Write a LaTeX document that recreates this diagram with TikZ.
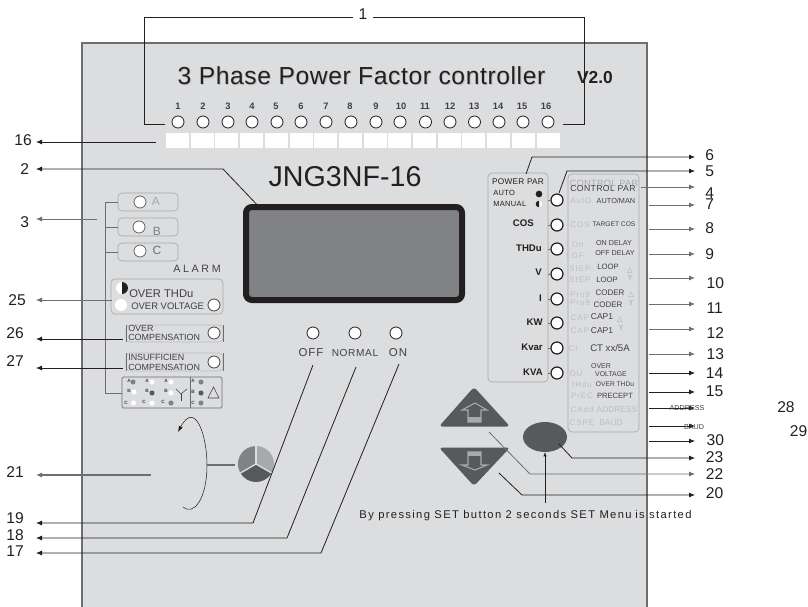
\documentclass[tikz,border=0pt]{standalone}
\usepackage{fontspec}
\setmainfont{Liberation Sans}
\newfontfamily\symfont{DejaVu Sans}
\usepackage{tikz}
\usetikzlibrary{shapes.geometric,arrows.meta}

\definecolor{panelgray}{HTML}{DCDDDE}
\definecolor{edgegray}{HTML}{6D6E71}
\definecolor{inkdark}{HTML}{231F20}
\definecolor{txtgray}{HTML}{414042}
\definecolor{lcdgray}{HTML}{808285}
\definecolor{keygray}{HTML}{58595B}
\definecolor{softgray}{HTML}{A7A9AC}
\definecolor{ghostgray}{HTML}{BCBEC0}

\tikzset{
  fs/.style={font=\fontsize{#1}{#1}\selectfont},
  led/.style={circle,draw=inkdark,fill=white,line width=0.6pt,minimum size=9pt,inner sep=0pt,outer sep=0pt},
  bigled/.style={led,line width=0.9pt},
  slot/.style={rectangle,fill=white,minimum width=17.25pt,minimum height=11.25pt,inner sep=0pt},
  ledno/.style={font=\fontsize{7}{7}\selectfont\bfseries,text=txtgray,inner sep=0pt},
  lblleft/.style={anchor=east,font=\fontsize{11.7}{14}\selectfont,text=inkdark,inner ysep=0pt,inner xsep=#1},
  lblleft/.default=3pt,
  lblright/.style={anchor=west,font=\fontsize{11.7}{14}\selectfont,text=inkdark,inner ysep=0pt,inner xsep=#1},
  lblright/.default=7.5pt,
  leader/.style={draw=inkdark,line width=0.6pt,-{Latex[length=4.5pt,width=3.8pt]}},
  trunk/.style={draw=edgegray,line width=0.6pt},
  frame/.style={rectangle,draw=softgray,rounded corners=3pt,line width=0.5pt,outer sep=0pt},
  ghost/.style={text=ghostgray,inner sep=0pt,font=\fontsize{6}{6}\selectfont\addfontfeature{LetterSpace=12}},
  keytxt/.style={text=txtgray,inner sep=0pt,font=\fontsize{#1}{#1}\selectfont},
  keytxt/.default=5,
  powtxt/.style={text=inkdark,inner sep=0pt,anchor=east,font=\fontsize{7.2}{8}\selectfont\bfseries},
  mini/.style={text=txtgray,inner sep=0pt,font=\fontsize{3.5}{4}\selectfont\bfseries},
  dotw/.style={circle,fill=white,minimum size=3.8pt,inner sep=0pt},
  dotg/.style={circle,fill=lcdgray,minimum size=3.8pt,inner sep=0pt},
  dotd/.style={circle,fill=keygray,minimum size=3.8pt,inner sep=0pt},
  sym/.style={text=softgray,inner sep=0pt,font=\symfont\fontsize{5.5}{6}\selectfont},
}

\begin{document}
\begin{tikzpicture}[x=0.75pt,y=0.75pt,yscale=-1,xscale=1]

            \useasboundingbox (0,0) rectangle (808,607);

            % Panel
            \fill[panelgray] (82,43) rectangle (647,607);
            \draw[edgegray,line width=1.1pt] (82,607) -- (82,43) -- (647,43) -- (647,607);

            % Title
            \node (titleb) [text=ghostgray,font=\fontsize{18.5}{20}\selectfont\addfontfeature{LetterSpace=2.4}] at (362.5,77) {3 Phase Power Factor controller};
            \node (title) [text=inkdark,font=\fontsize{18.5}{20}\selectfont\addfontfeature{LetterSpace=2.4}] at (361.5,76) {3 Phase Power Factor controller};
            \node (ver) [text=inkdark,font=\fontsize{13}{14}\selectfont\bfseries] at (595,78) {V2.0};
            \node (model) [text=inkdark,font=\fontsize{21.5}{24}\selectfont] at (345,177) {JNG3NF-16};

            % Step numbers
            \node (no1) [ledno] at (178,106) {1};
            \node (no2) [ledno] at (203,106) {2};
            \node (no3) [ledno] at (228,106) {3};
            \node (no4) [ledno] at (252,106) {4};
            \node (no5) [ledno] at (276,106) {5};
            \node (no6) [ledno] at (301,106) {6};
            \node (no7) [ledno] at (326,106) {7};
            \node (no8) [ledno] at (350,106) {8};
            \node (no9) [ledno] at (376,106) {9};
            \node (no10) [ledno] at (401,106) {10};
            \node (no11) [ledno] at (425,106) {11};
            \node (no12) [ledno] at (450,106) {12};
            \node (no13) [ledno] at (474,106) {13};
            \node (no14) [ledno] at (498,106) {14};
            \node (no15) [ledno] at (522,106) {15};
            \node (no16) [ledno] at (546,106) {16};

            % Step LEDs
            \node (led1) [led] at (178,122) {};
            \node (led2) [led] at (203,122) {};
            \node (led3) [led] at (228,122) {};
            \node (led4) [led] at (252,122) {};
            \node (led5) [led] at (277,122) {};
            \node (led6) [led] at (301,122) {};
            \node (led7) [led] at (326,122) {};
            \node (led8) [led] at (351,122) {};
            \node (led9) [led] at (376,122) {};
            \node (led10) [led] at (400,122) {};
            \node (led11) [led] at (425.5,122) {};
            \node (led12) [led] at (450,122) {};
            \node (led13) [led] at (474.5,122) {};
            \node (led14) [led] at (499,122) {};
            \node (led15) [led] at (523,122) {};
            \node (led16) [led] at (548,122) {};

            % Step slots
            \node (slot1) [slot] at (177.5,140.5) {};
            \node (slot2) [slot] at (202.2,140.5) {};
            \node (slot3) [slot] at (226.9,140.5) {};
            \node (slot4) [slot] at (251.6,140.5) {};
            \node (slot5) [slot] at (276.3,140.5) {};
            \node (slot6) [slot] at (301,140.5) {};
            \node (slot7) [slot] at (325.7,140.5) {};
            \node (slot8) [slot] at (350.4,140.5) {};
            \node (slot9) [slot] at (375.1,140.5) {};
            \node (slot10) [slot] at (399.8,140.5) {};
            \node (slot11) [slot] at (424.5,140.5) {};
            \node (slot12) [slot] at (449.2,140.5) {};
            \node (slot13) [slot] at (473.9,140.5) {};
            \node (slot14) [slot] at (498.6,140.5) {};
            \node (slot15) [slot] at (523.3,140.5) {};
            \node (slot16) [slot] at (548,140.5) {};

            % Display
            \node (lcd) [rectangle,draw=inkdark,fill=lcdgray,line width=4.5pt,rounded corners=4.5pt,minimum width=162pt,minimum height=69.75pt] at (354,253.5) {};

            % Alarm side
            \node (boxa) [frame,minimum width=45pt,minimum height=13.5pt] at (148,202) {};
            \node (boxb) [frame,minimum width=45pt,minimum height=13.5pt] at (148,227) {};
            \node (boxc) [frame,minimum width=45pt,minimum height=13.5pt] at (148,252) {};
            \node (leda) [led,draw=inkdark!70] at (140,202) {};
            \node (ledb) [led,draw=inkdark!70] at (139,227) {};
            \node (ledc) [led,draw=inkdark!70] at (140,251) {};
            \node (txta) [text=softgray,fs=9,inner sep=0pt] at (156,201) {A};
            \node (txtb) [text=lcdgray,fs=9,inner sep=0pt] at (157,231) {B};
            \node (txtc) [text=edgegray,fs=9,inner sep=0pt] at (157,250) {C};
            \node (alarm) [text=txtgray,inner sep=0pt,font=\fontsize{8}{8}\selectfont\addfontfeature{LetterSpace=25}] at (197,269) {ALARM};

            \node (boxthd) [frame,minimum width=84pt,minimum height=26.25pt] at (167,296.5) {};
            \node (halfled) [circle,fill=white,minimum size=9pt,inner sep=0pt] at (122,288) {};
            \fill[inkdark] (122,282) arc[start angle=-90,end angle=90,radius=6];
            \node (wled) [circle,fill=white,minimum size=9pt,inner sep=0pt] at (121,305) {};
            \node (ledthd) [led,draw=txtgray] at (214,305) {};
            \node (txtthd) [text=txtgray,anchor=west,inner sep=0pt,font=\fontsize{8.4}{9}\selectfont] at (129,294) {OVER THDu};
            \node (txtvol) [text=txtgray,anchor=west,inner sep=0pt,font=\fontsize{7.1}{8}\selectfont] at (131,306) {OVER VOLTAGE};

            \node (boxovc) [frame,draw=panelgray!85!black,minimum width=72.75pt,minimum height=12.75pt] at (174.5,333.5) {};
            \node (txtovc) [text=txtgray,anchor=west,inner sep=0pt,align=left,font=\fontsize{6.7}{6.6}\selectfont] at (128,333) {OVER\\COMPENSATION};
            \node (ledovc) [led,draw=txtgray] at (214,333) {};
            \draw[edgegray,line width=0.5pt] (boxovc.north west) -- (boxovc.south west);
            \draw[edgegray,line width=0.5pt] (boxovc.north east) -- (boxovc.south east);

            \node (boxins) [frame,draw=panelgray!85!black,minimum width=72.75pt,minimum height=13.5pt] at (174.5,362) {};
            \node (txtins) [text=txtgray,anchor=west,inner sep=0pt,align=left,font=\fontsize{6.7}{7.5}\selectfont] at (128,362) {INSUFFICIEN\\COMPENSATION};
            \node (ledins) [led,draw=txtgray] at (214,362) {};
            \draw[edgegray,line width=0.5pt] (boxins.north west) -- (boxins.south west);
            \draw[edgegray,line width=0.5pt] (boxins.north east) -- (boxins.south east);

            % Load table
            \node (boxload) [frame,draw=edgegray,rounded corners=1pt,minimum width=75pt,minimum height=23.25pt] at (172,392.5) {};
            \draw[edgegray,line width=0.5pt] (190,377) -- (190,408);
            \node (ta1) [mini] at (129,381) {A};
            \node (tb1) [mini] at (129,391) {B};
            \node (tc1) [mini] at (126,403) {C};
            \node (da1) [dotg] at (133,382) {};
            \node (db1) [dotw] at (134,392) {};
            \node (dc1) [dotw] at (133.5,403) {};
            \node (ta2) [mini] at (147,381) {A};
            \node (tb2) [mini] at (147,391) {B};
            \node (tc2) [mini] at (144,402) {C};
            \node (da2) [dotw] at (152,382) {};
            \node (db2) [dotd] at (152,393) {};
            \node (dc2) [dotw] at (152,403) {};
            \node (ta3) [mini] at (166,381) {A};
            \node (tb3) [mini] at (166,391) {B};
            \node (tc3) [mini] at (163,402) {C};
            \node (da3) [dotw] at (171,382) {};
            \node (db3) [dotw] at (171,393) {};
            \node (dc3) [dotg] at (171,403) {};
            \node (ta4) [mini] at (193,381) {A};
            \node (tb4) [mini] at (193,392) {B};
            \node (tc4) [mini] at (193,403) {C};
            \node (da4) [dotg] at (201,382) {};
            \node (db4) [dotd] at (201,393) {};
            \node (dc4) [dotg] at (201,403) {};
            \draw[txtgray,line width=0.4pt] (176,389) -- (181,394) -- (187,389);
            \draw[txtgray,line width=0.4pt] (181,394) -- (181,401);
            \draw[txtgray,line width=0.4pt] (208,398) -- (219,398) -- (213.5,387) -- cycle;

            % Status LEDs
            \node (ledoff) [led] at (313,333) {};
            \node (lednor) [led] at (355,333) {};
            \node (ledon) [led] at (396,333) {};
            \node (txtoff) [text=txtgray,inner sep=0pt,font=\fontsize{8.6}{9}\selectfont\addfontfeature{LetterSpace=8}] at (311,353) {OFF};
            \node (txtnor) [text=txtgray,inner sep=0pt,font=\fontsize{7.6}{9}\selectfont\addfontfeature{LetterSpace=6}] at (355,353.5) {NORMAL};
            \node (txton) [text=txtgray,inner sep=0pt,font=\fontsize{8.6}{9}\selectfont\addfontfeature{LetterSpace=8}] at (398,353) {ON};

            % Rotation mark
            \draw[inkdark,line width=0.4pt,-{Latex[length=4.5pt,width=3.2pt]}] (183,507) .. controls (193,516) and (207,500) .. (207,465) .. controls (207,435) and (195,400) .. (178,432);
            \coordinate (piec) at (256,464);
            \coordinate (piea) at (207,465);
            \draw[edgegray,line width=1.1pt] (piea) -- (235,465);
            \fill[softgray] (piec) -- ++(0,-18) arc[start angle=-90,end angle=30,radius=18] -- cycle;
            \fill[keygray] (piec) -- ++(15.6,9) arc[start angle=30,end angle=150,radius=18] -- cycle;
            \fill[lcdgray] (piec) -- ++(-15.6,9) arc[start angle=150,end angle=270,radius=18] -- cycle;
            \draw[panelgray,line width=1pt] (piec) -- ++(0,-20);
            \draw[panelgray,line width=1pt] (piec) -- ++(17.3,10);
            \draw[panelgray,line width=1pt] (piec) -- ++(-17.3,10);

            % Power par
            \node (boxpow) [frame,minimum width=45pt,minimum height=156.75pt] at (518,277.5) {};
            \node (txtpow) [text=inkdark,inner sep=0pt,font=\fontsize{6.2}{7}\selectfont\addfontfeature{LetterSpace=3}] at (518,182) {POWER\,\,PAR};
            \node (txtaut) [text=inkdark,anchor=west,inner sep=0pt,font=\fontsize{5.6}{6}\selectfont\addfontfeature{LetterSpace=5}] at (493,193) {AUTO};
            \node (txtman) [text=inkdark,anchor=west,inner sep=0pt,font=\fontsize{5.6}{6}\selectfont\addfontfeature{LetterSpace=5}] at (493,204) {MANUAL};
            \node (dotaut) [circle,fill=inkdark,minimum size=5pt,inner sep=0pt] at (539,194) {};
            \node (dotman) [circle,fill=white,minimum size=5pt,inner sep=0pt] at (539,204) {};
            \fill[inkdark] (539,200.7) arc[start angle=-90,end angle=-270,radius=3.3];

            \node (txtcos) [powtxt] at (534,223) {COS};
            \node (txttd) [powtxt] at (542,248) {THDu};
            \node (txtv) [powtxt] at (542,272) {V};
            \node (txti) [powtxt] at (542,298) {I};
            \node (txtkw) [powtxt] at (543,322) {KW};
            \node (txtkvr) [powtxt] at (543,347) {Kvar};
            \node (txtkva) [powtxt] at (543,372) {KVA};

            \node (ledp1) [bigled] at (557,200) {};
            \node (ledp2) [bigled] at (557,225) {};
            \node (ledp3) [bigled] at (557,249) {};
            \node (ledp4) [bigled] at (557,274) {};
            \node (ledp5) [bigled] at (557,299) {};
            \node (ledp6) [bigled] at (557,323) {};
            \node (ledp7) [bigled] at (557,348) {};
            \node (ledp8) [bigled] at (557,373) {};
            \draw[edgegray,line width=0.5pt] (ledp1.west) -- (ledp1.west -| boxpow.east);
            \draw[edgegray,line width=0.5pt] (ledp2.west) -- (ledp2.west -| boxpow.east);
            \draw[edgegray,line width=0.5pt] (ledp3.west) -- (ledp3.west -| boxpow.east);
            \draw[edgegray,line width=0.5pt] (ledp4.west) -- (ledp4.west -| boxpow.east);
            \draw[edgegray,line width=0.5pt] (ledp5.west) -- (ledp5.west -| boxpow.east);
            \draw[edgegray,line width=0.5pt] (ledp6.west) -- (ledp6.west -| boxpow.east);
            \draw[edgegray,line width=0.5pt] (ledp7.west) -- (ledp7.west -| boxpow.east);
            \draw[edgegray,line width=0.5pt] (ledp8.west) -- (ledp8.west -| boxpow.east);

            % Control par
            \node (boxctl) [frame,minimum width=53.25pt,minimum height=193.5pt] at (603.5,303) {};
            \node (txtctg) [text=softgray,inner sep=0pt,font=\fontsize{6.8}{8}\selectfont\addfontfeature{LetterSpace=4}] at (604,183) {CONTROL\,\,PAR};
            \node (txtctl) [text=txtgray,inner sep=0pt,font=\fontsize{6.5}{8}\selectfont\addfontfeature{LetterSpace=4}] at (603,189) {CONTROL\,\,PAR};

            \node (g1) [ghost] at (581,201) {AutO};
            \node (g2) [ghost] at (580,225) {COS};
            \node (g3) [ghost] at (575,245) {t On};
            \node (g4) [ghost] at (575,256) {t OF};
            \node (g5) [ghost] at (580,269) {StEP};
            \node (g6) [ghost] at (580,280) {StEP};
            \node (g7) [ghost] at (580,295) {Pro9};
            \node (g8) [ghost] at (580,303) {Pro9};
            \node (g9) [ghost] at (580,318) {CAP};
            \node (g10) [ghost] at (580,331) {CAP};
            \node (g11) [ghost] at (573,349) {Ct};
            \node (g12) [ghost] at (576,374) {OU};
            \node (g13) [ghost] at (582,385) {tHdu};
            \node (g14) [ghost] at (582,396) {PrEC};
            \node (g15) [ghost] at (582,410) {CAdd};
            \node (g16) [ghost] at (582,423) {CSPE};
            \node (g17) [text=ghostgray,inner sep=0pt,fs=6.3] at (617,410) {ADDRESS};
            \node (g18) [text=ghostgray,inner sep=0pt,fs=6.3] at (611,423) {BAUD};

            \node (c1) [keytxt=5.5] at (616,201) {AUTO/MAN};
            \node (c2) [keytxt=5] at (614,224) {TARGET COS};
            \node (c3) [keytxt=5.4] at (614,243) {ON DELAY};
            \node (c4) [keytxt=5.4] at (615,253) {OFF DELAY};
            \node (c5) [keytxt=5.8] at (608,267) {LOOP};
            \node (c6) [keytxt=5.8] at (607,280) {LOOP};
            \node (c7) [keytxt=6] at (610,293) {CODER};
            \node (c8) [keytxt=6] at (608,305) {CODER};
            \node (c9) [keytxt=6.4] at (602,317) {CAP1};
            \node (c10) [keytxt=6.4] at (602,331) {CAP1};
            \node (c11) [keytxt=7.2] at (610,348) {CT xx/5A};
            \node (c12) [keytxt=5.2] at (601,366) {OVER};
            \node (c13) [keytxt=5.2] at (611,374) {VOLTAGE};
            \node (c14) [keytxt=5] at (615,384) {OVER THDu};
            \node (c15) [keytxt=5.7] at (615,396) {PRECEPT};

            \node (s1) [sym] at (630,271) {△};
            \node (y1) [sym] at (630,278) {Y};
            \node (s2) [sym] at (631,295) {△};
            \node (y2) [sym] at (631,303) {Y};
            \node (s3) [sym] at (620,320) {△};
            \node (y3) [sym] at (621,328) {Y};

            % Buttons
            \fill[keygray,rounded corners=2.5pt] (474,387) -- (510,426.5) -- (439,426.5) -- cycle;
            \fill[keygray,rounded corners=2.5pt] (439,447.5) -- (510,447.5) -- (474,486) -- cycle;
            \draw[softgray,line width=0.8pt] (475,403) -- (487,410) -- (481,410) -- (481,422) -- (468,422) -- (468,410) -- (462,410) -- cycle;
            \fill[softgray] (468,417) rectangle (481,422);
            \draw[softgray,line width=0.8pt] (475,470) -- (487,465) -- (481,465) -- (481,452) -- (468,452) -- (468,465) -- (462,465) -- cycle;
            \fill[softgray] (468,452) rectangle (481,456);
            \node (setkey) [ellipse,fill=keygray,minimum width=33pt,minimum height=22.5pt,inner sep=0pt] at (545,437) {};

            \node (hint) [text=inkdark,inner sep=0pt,font=\fontsize{8.4}{9}\selectfont\addfontfeature{LetterSpace=12}] at (525.5,515.5) {By pressing SET button 2 seconds SET Menu\,\,is started};

            % Left labels
            \node (n16) [lblleft] at (36,140) {16};
            \node (n2) [lblleft=5pt] at (36,169) {2};
            \node (n3) [lblleft=5pt] at (36,222) {3};
            \node (n25) [lblleft=7.5pt] at (36,300) {25};
            \node (n26) [lblleft=9pt] at (36,333) {26};
            \node (n27) [lblleft=9pt] at (36,361) {27};
            \node (n21) [lblleft=9pt] at (36,472) {21};
            \node (n19) [lblleft=9pt] at (36,518) {19};
            \node (n18) [lblleft=9pt] at (36,535) {18};
            \node (n17) [lblleft=9pt] at (36,551) {17};

            % Right labels
            \node (n6) [lblright] at (695,155) {6};
            \node (n5) [lblright] at (695,171) {5};
            \node (n4) [lblright] at (695,193) {4};
            \node (n7) [lblright] at (695,204) {7};
            \node (n8) [lblright] at (695,228) {8};
            \node (n9) [lblright] at (695,254) {9};
            \node (n10) [lblright=8.5pt] at (695,283) {10};
            \node (n11) [lblright=8.5pt] at (695,308) {11};
            \node (n12) [lblright=8.5pt] at (695,333) {12};
            \node (n13) [lblright=8.5pt] at (695,354) {13};
            \node (n14) [lblright=8pt] at (695,373) {14};
            \node (n15) [lblright=8pt] at (695,391) {15};
            \node (n28) [lblright=61.5pt] at (695,407) {28};
            \node (n29) [lblright=71pt] at (695,431) {29};
            \node (n30) [lblright=8.5pt] at (695,440) {30};
            \node (n23) [lblright=8pt] at (695,457) {23};
            \node (n22) [lblright=8pt] at (695,474) {22};
            \node (n20) [lblright=8pt] at (695,493) {20};
            \node (n1) [text=inkdark,font=\fontsize{11.7}{14}\selectfont,inner ysep=0pt,inner xsep=4.2pt] at (363,14) {1};

            % Leader ends
            \coordinate (l1a) at (144,17);
            \coordinate (l1b) at (144,124);
            \coordinate (l1c) at (165,124);
            \coordinate (r1a) at (584,17);
            \coordinate (r1b) at (584,124);
            \coordinate (r1c) at (563,124);
            \coordinate (e16) at (156,142);
            \coordinate (e2) at (262,210);
            \coordinate (k2) at (223,169);
            \coordinate (e3) at (97,219);
            \coordinate (e25) at (112,300);
            \coordinate (e26) at (123,339);
            \coordinate (e27) at (123,368);
            \coordinate (e21) at (151,475);
            \coordinate (e19) at (313,365);
            \coordinate (k19) at (253,523);
            \coordinate (e18) at (356,367);
            \coordinate (k18) at (287,538);
            \coordinate (e17) at (399,364);
            \coordinate (k17) at (321,553);
            \coordinate (e6) at (526,174);
            \coordinate (k6) at (532,157);
            \coordinate (e5) at (559,193);
            \coordinate (k5) at (567,171);
            \coordinate (e4) at (641,187);
            \coordinate (e7) at (649,205);
            \coordinate (e8) at (649,229);
            \coordinate (e9) at (649,254);
            \coordinate (e10) at (649,278);
            \coordinate (e11) at (649,304);
            \coordinate (e12) at (649,329);
            \coordinate (e13) at (649,354);
            \coordinate (e14) at (649,373);
            \coordinate (e15) at (649,392);
            \coordinate (e28) at (649,408);
            \coordinate (e29) at (649,426);
            \coordinate (e30) at (649,441);
            \coordinate (e23) at (559,444);
            \coordinate (k23) at (572,458);
            \coordinate (e22) at (489,432);
            \coordinate (k22) at (530,474);
            \coordinate (e20) at (499,473);
            \coordinate (k20) at (522,495);
            \coordinate (brtop) at (105,202);
            \coordinate (brbot) at (105,393);
            \coordinate (setup) at (545,503);

            % Leaders
            \draw[trunk,draw=inkdark] (n1.west |- l1a) -- (l1a) -- (l1b) -- (l1c);
            \draw[trunk,draw=inkdark] (n1.east |- r1a) -- (r1a) -- (r1b) -- (r1c);
            \draw[trunk] (boxa.west) -- (brtop) -- (brbot) -- (boxload.west |- brbot);
            \draw[trunk] (boxb.west) -- (boxb.west -| brtop);
            \draw[trunk] (boxc.west) -- (boxc.west -| brtop);

            \draw[leader] (e16) -- (e16 -| n16.east);
            \draw[leader] (e2) -- (k2) -- (k2 -| n2.east);
            \draw[leader,draw=edgegray] (e3) -- (e3 -| n3.east);
            \draw[leader,draw=edgegray] (e25) -- (e25 -| n25.east);
            \draw[leader] (e26) -- (e26 -| n26.east);
            \draw[leader] (e27) -- (e27 -| n27.east);
            \draw[leader,draw=edgegray,line width=0.9pt] (e21) -- (e21 -| n21.east);
            \draw[leader] (e19) -- (k19) -- (k19 -| n19.east);
            \draw[leader] (e18) -- (k18) -- (k18 -| n18.east);
            \draw[leader] (e17) -- (k17) -- (k17 -| n17.east);

            \draw[leader] (e6) -- (k6) -- (k6 -| n6.west);
            \draw[leader] (e5) -- (k5) -- (k5 -| n5.west);
            \draw[leader,draw=edgegray] (e4) -- (e4 -| n4.west);
            \draw[leader,draw=edgegray] (e7) -- (e7 -| n7.west);
            \draw[leader,draw=edgegray] (e8) -- (e8 -| n8.west);
            \draw[leader,draw=edgegray] (e9) -- (e9 -| n9.west);
            \draw[leader,draw=edgegray] (e10) -- (e10 -| n10.west);
            \draw[leader,draw=edgegray] (e11) -- (e11 -| n11.west);
            \draw[leader,draw=edgegray] (e12) -- (e12 -| n12.west);
            \draw[leader,draw=edgegray] (e13) -- (e13 -| n13.west);
            \draw[leader] (e14) -- (e14 -| n14.west);
            \draw[leader] (e15) -- (e15 -| n15.west);
            \draw[leader] (e28) -- (e28 -| n28.west);
            \draw[leader] (e29) -- (e29 -| n29.west);
            \draw[leader] (e30) -- (e30 -| n30.west);
            \draw[leader] (e23) -- (k23) -- (k23 -| n23.west);
            \draw[leader,draw=edgegray] (e22) -- (k22) -- (k22 -| n22.west);
            \draw[leader] (e20) -- (k20) -- (k20 -| n20.west);
            \draw[inkdark,line width=0.3pt,-{Latex[length=3pt,width=2.4pt]}] (setup) -- (setkey.south);

            \node (addr) [text=txtgray,inner sep=0pt,fs=5.4] at (687,408) {ADDRESS};
            \node (baud) [text=txtgray,inner sep=0pt,fs=5.4] at (694,427) {BAUD};

            \end{tikzpicture}
\end{document}
